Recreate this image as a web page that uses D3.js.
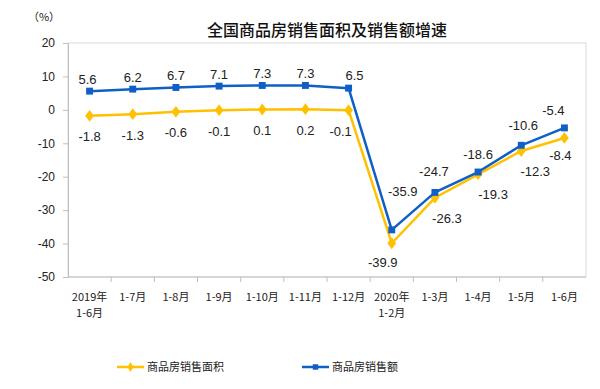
<!DOCTYPE html>
<html>
<head>
  <meta charset="utf-8">
  <title>全国商品房销售面积及销售额增速</title>
  <style type="text/css">
    body { margin: 0; background: #fff; }
    svg { display: block; }
  </style>
</head>
<body>
<svg id="vis" width="600" height="389"></svg>

<script src="https://cdnjs.cloudflare.com/ajax/libs/d3/7.8.5/d3.min.js"></script>
<script type="text/javascript">
  // data
  var categories = ['2019年|1-6月', '1-7月', '1-8月', '1-9月', '1-10月', '1-11月', '1-12月',
                    '2020年|1-2月', '1-3月', '1-4月', '1-5月', '1-6月']
  var areaGrowth  = [-1.8, -1.3, -0.6, -0.1, 0.1, 0.2, -0.1, -39.9, -26.3, -19.3, -12.3, -8.4]
  var salesGrowth = [5.6, 6.2, 6.7, 7.1, 7.3, 7.3, 6.5, -35.9, -24.7, -18.6, -10.6, -5.4]
  var yTicks = [20, 10, 0, -10, -20, -30, -40, -50]
  var seriesNames = ['商品房销售面积', '商品房销售额']

  // label nudges (dx, dy) so the numbers sit where the original puts them
  var areaNudge  = [[0,21],[0,21],[0,21],[0,21],[0,21],[0,21],[-8,21],[-9,19],[12,21],[15,20],[14,20],[-4,18]]
  var salesNudge = [[-2,-12],[0,-12],[0,-12],[0,-12],[0,-12],[0,-12],[6,-13],[11,-38],[-1,-21],[0,-18],[2,-20],[-11,-17]]

  var yellow = '#FFC000'
  var blue = '#0F5FC6'

  var svg = d3.select('#vis')
  var margin = { top: 43, right: 14, bottom: 112, left: 68 }
  var W = +svg.attr('width'), H = +svg.attr('height')

  var x = d3.scaleBand()
    .domain(d3.range(categories.length))
    .range([margin.left, W - margin.right])

  var y = d3.scaleLinear()
    .domain([-50, 20])
    .range([H - margin.bottom, margin.top])

  // plot frame
  svg.append('rect')
    .attr('x', margin.left).attr('y', margin.top)
    .attr('width', W - margin.left - margin.right)
    .attr('height', H - margin.top - margin.bottom)
    .attr('fill', 'none').attr('stroke', '#d9d9d9')

  // y axis (plain hyphen minus, like the original)
  var yAxis = svg.append('g')
    .attr('transform', 'translate(' + margin.left + ',0)')
    .call(d3.axisLeft(y).tickValues(yTicks).tickFormat(String).tickSize(5).tickPadding(8))
  yAxis.select('.domain').attr('stroke', '#bfbfbf')
  yAxis.selectAll('.tick line').attr('stroke', '#bfbfbf')
  yAxis.selectAll('.tick text')
    .attr('font-family', 'Liberation Sans, Arial, sans-serif')
    .attr('font-size', 12).attr('fill', '#222')

  // x axis: ticks sit between the categories
  var xAxis = svg.append('g')
    .attr('transform', 'translate(0,' + y(-50) + ')')
  xAxis.append('line')
    .attr('x1', margin.left).attr('x2', W - margin.right)
    .attr('stroke', '#bfbfbf')
  xAxis.selectAll('line.tk')
    .data(d3.range(1, categories.length))
    .enter().append('line')
      .attr('class', 'tk')
      .attr('x1', function(i) { return x(i) }).attr('x2', function(i) { return x(i) })
      .attr('y1', 0).attr('y2', 5)
      .attr('stroke', '#bfbfbf')
  var xl = xAxis.selectAll('text')
    .data(categories)
    .enter().append('text')
      .attr('x', function(d, i) { return x(i) + x.bandwidth() / 2 })
      .attr('y', 24)
      .attr('text-anchor', 'middle')
      .attr('font-family', 'Noto Sans CJK SC, sans-serif')
      .attr('font-size', 11).attr('fill', '#222')
  xl.selectAll('tspan')
    .data(function(d) { return d.split('|') })
    .enter().append('tspan')
      .attr('x', function() { return d3.select(this.parentNode).attr('x') })
      .attr('dy', function(d, i) { return i ? 16 : 0 })
      .text(function(d) { return d })

  // unit + title
  svg.append('text')
    .attr('x', 44).attr('y', 21)
    .attr('text-anchor', 'middle')
    .attr('font-family', 'Noto Sans CJK SC, sans-serif')
    .attr('font-size', 11).attr('fill', '#222')
    .text('（%）')
  svg.append('text')
    .attr('x', 327).attr('y', 36)
    .attr('text-anchor', 'middle')
    .attr('font-family', 'Noto Sans CJK SC, sans-serif')
    .attr('font-size', 16).attr('font-weight', 500).attr('fill', '#111')
    .text('全国商品房销售面积及销售额增速')

  var cx = function(d, i) { return x(i) + x.bandwidth() / 2 }
  var line = d3.line().x(cx).y(function(d) { return y(d) })

  function drawSeries(values, color, shape, size, nudge) {
    var g = svg.append('g')
    g.append('path')
      .datum(values)
      .attr('d', line)
      .attr('fill', 'none').attr('stroke', color)
      .attr('stroke-width', 2.5).attr('stroke-linejoin', 'round')
    g.selectAll('path.mk')
      .data(values)
      .enter().append('path')
        .attr('class', 'mk')
        .attr('d', d3.symbol().type(shape).size(size))
        .attr('transform', function(d, i) {
          return 'translate(' + cx(d, i) + ',' + y(d) + ')' + (shape === d3.symbolDiamond ? ' scale(1.15,0.9)' : '')
        })
        .attr('fill', color)
    g.selectAll('text')
      .data(values)
      .enter().append('text')
        .attr('x', function(d, i) { return cx(d, i) + nudge[i][0] })
        .attr('y', function(d, i) { return y(d) + nudge[i][1] })
        .attr('dy', '0.35em')
        .attr('text-anchor', 'middle')
        .attr('font-family', 'Liberation Sans, Arial, sans-serif')
        .attr('font-size', 13).attr('fill', '#222')
        .text(function(d) { return d.toFixed(1) })
  }

  drawSeries(areaGrowth, yellow, d3.symbolDiamond, 50, areaNudge)
  drawSeries(salesGrowth, blue, d3.symbolSquare, 48, salesNudge)

  // legend
  var legend = svg.append('g')
  var items = [
    { name: seriesNames[0], color: yellow, shape: d3.symbolDiamond, x0: 117 },
    { name: seriesNames[1], color: blue, shape: d3.symbolSquare, x0: 302 }
  ]
  items.forEach(function(it) {
    var ly = 367
    legend.append('line')
      .attr('x1', it.x0).attr('x2', it.x0 + 27)
      .attr('y1', ly).attr('y2', ly)
      .attr('stroke', it.color).attr('stroke-width', 2.5)
    legend.append('path')
      .attr('d', d3.symbol().type(it.shape).size(30))
      .attr('transform', 'translate(' + (it.x0 + 13.5) + ',' + ly + ')')
      .attr('fill', it.color)
    legend.append('text')
      .attr('x', it.x0 + 30).attr('y', ly)
      .attr('dy', '0.35em')
      .attr('font-family', 'Noto Sans CJK SC, sans-serif')
      .attr('font-size', 11).attr('fill', '#222')
      .text(it.name)
  })
</script>
</body>
</html>
